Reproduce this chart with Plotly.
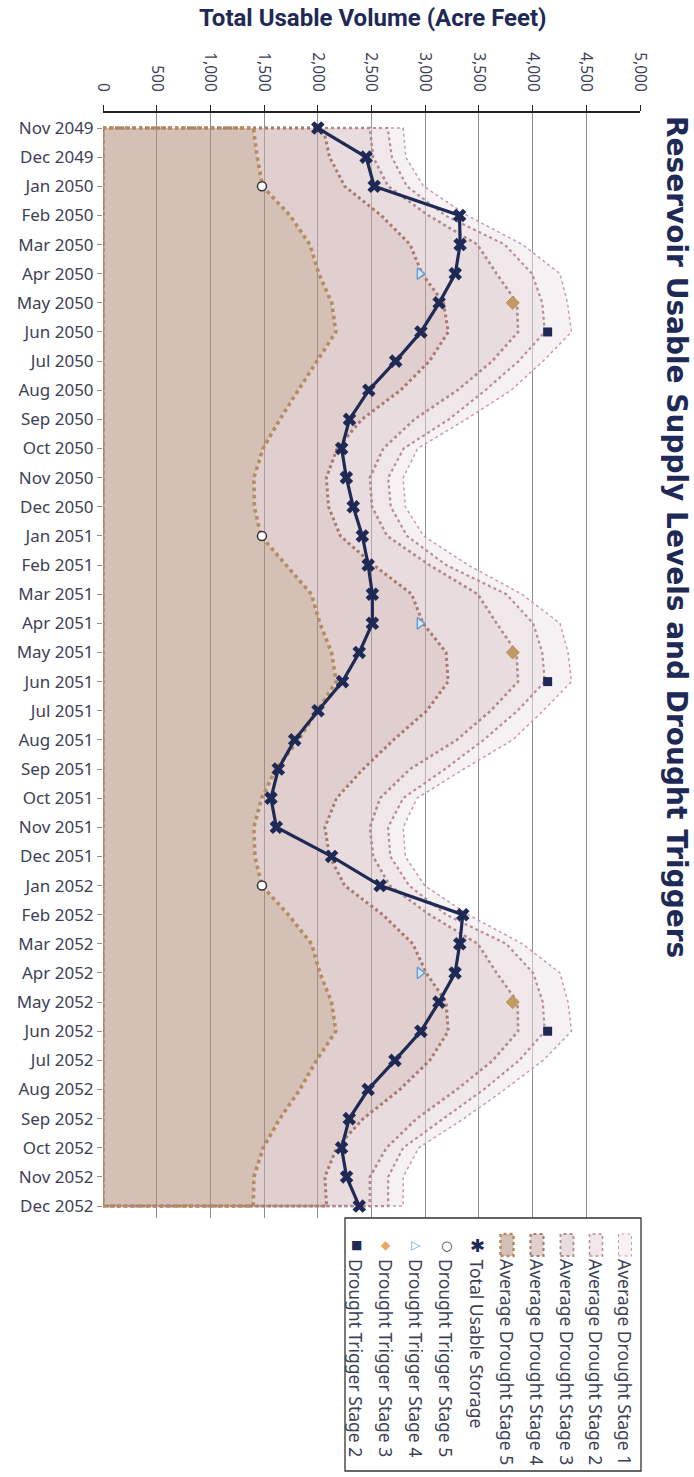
import plotly.graph_objects as go

# ---------------- data ----------------
months = ["Nov 2049", "Dec 2049",
          "Jan 2050", "Feb 2050", "Mar 2050", "Apr 2050", "May 2050", "Jun 2050",
          "Jul 2050", "Aug 2050", "Sep 2050", "Oct 2050", "Nov 2050", "Dec 2050",
          "Jan 2051", "Feb 2051", "Mar 2051", "Apr 2051", "May 2051", "Jun 2051",
          "Jul 2051", "Aug 2051", "Sep 2051", "Oct 2051", "Nov 2051", "Dec 2051",
          "Jan 2052", "Feb 2052", "Mar 2052", "Apr 2052", "May 2052", "Jun 2052",
          "Jul 2052", "Aug 2052", "Sep 2052", "Oct 2052", "Nov 2052", "Dec 2052"]

storage = [2000, 2450, 2525, 3320, 3325, 3280, 3130, 2960, 2725, 2475, 2295, 2222,
           2266, 2330, 2415, 2469, 2508, 2508, 2386, 2230, 2002, 1785, 1632, 1564,
           1614, 2128, 2580, 3350, 3322, 3278, 3128, 2960, 2718, 2469, 2293, 2221,
           2268, 2386]

stage1 = [2795, 2820, 2985, 3390, 3905, 4255, 4325, 4362, 4098, 3800, 3380, 2930,
          2795, 2815, 2985, 3400, 3900, 4255, 4330, 4362, 4098, 3815, 3360, 2925,
          2795, 2815, 2995, 3400, 3905, 4255, 4330, 4362, 4098, 3740, 3360, 2940,
          2795, 2795]
stage2 = [2650, 2690, 2830, 3185, 3740, 3995, 4090, 4113, 3870, 3560, 3220, 2800,
          2655, 2680, 2830, 3195, 3755, 4005, 4090, 4113, 3860, 3545, 3185, 2795,
          2655, 2675, 2850, 3195, 3755, 4005, 4095, 4113, 3875, 3545, 3170, 2795,
          2655, 2655]
stage3 = [2485, 2515, 2655, 3030, 3485, 3665, 3855, 3865, 3625, 3300, 2900, 2610,
          2485, 2505, 2645, 3040, 3490, 3665, 3850, 3865, 3610, 3295, 2860, 2580,
          2485, 2515, 2670, 3040, 3490, 3665, 3860, 3865, 3630, 3295, 2920, 2640,
          2485, 2485]
stage4 = [2050, 2110, 2250, 2590, 2860, 2970, 3170, 3215, 3040, 2770, 2410, 2180,
          2080, 2100, 2210, 2520, 2875, 2980, 3195, 3214, 3015, 2705, 2423, 2175,
          2066, 2110, 2250, 2605, 2885, 3010, 3195, 3214, 3043, 2764, 2423, 2175,
          2066, 2082]
stage5 = [1400, 1436, 1485, 1740, 1926, 2010, 2130, 2168, 1990, 1818, 1647, 1490,
          1405, 1410, 1470, 1710, 1940, 2020, 2128, 2172, 1995, 1820, 1610, 1477,
          1405, 1415, 1478, 1725, 1942, 2020, 2128, 2168, 1988, 1833, 1647, 1492,
          1405, 1399]

trigger5 = [None, None, 1480, None, None, None, None, None, None, None, None, None,
            None, None, 1480, None, None, None, None, None, None, None, None, None,
            None, None, 1480, None, None, None, None, None, None, None, None, None,
            None, None]
trigger4 = [None, None, None, None, None, 2950, None, None, None, None, None, None,
            None, None, None, None, None, 2950, None, None, None, None, None, None,
            None, None, None, None, None, 2950, None, None, None, None, None, None,
            None, None]
trigger3 = [None, None, None, None, None, None, 3815, None, None, None, None, None,
            None, None, None, None, None, None, 3815, None, None, None, None, None,
            None, None, None, None, None, None, 3815, None, None, None, None, None,
            None, None]
trigger2 = [None, None, None, None, None, None, None, 4140, None, None, None, None,
            None, None, None, None, None, None, None, 4140, None, None, None, None,
            None, None, None, None, None, None, None, 4140, None, None, None, None,
            None, None]

x_ticks = [0, 500, 1000, 1500, 2000, 2500, 3000, 3500, 4000, 4500, 5000]

stage_names = ["Average Drought Stage 1", "Average Drought Stage 2", "Average Drought Stage 3",
               "Average Drought Stage 4", "Average Drought Stage 5"]
legend_names = stage_names + ["Total Usable Storage", "Drought Trigger Stage 5",
                              "Drought Trigger Stage 4", "Drought Trigger Stage 3",
                              "Drought Trigger Stage 2"]

# ---------------- styling ----------------
W, H = 694, 1477
L, R, T, B = 103, 640, 113, 1218
NAVY = "#1e2a55"
TXT = "#3c3f55"

band_fill = ["rgba(239,230,234,0.55)", "rgba(228,211,216,0.55)", "rgba(214,191,194,0.55)",
             "rgba(198,168,166,0.55)", "rgba(176,141,121,0.55)"]
line_col = ["#c898bd", "#b98c9c", "#b08a8c", "#a97b70", "#b58c5f"]
line_w = [1.5, 2.2, 2.6, 3.0, 3.6]

stages = [stage1, stage2, stage3, stage4, stage5]

fig = go.Figure()

# band fills (stage 5 from zero, others to the next inner stage)
for k in [4, 3, 2, 1, 0]:
    fig.add_trace(go.Scatter(
        x=stages[k], y=months, mode="lines", line=dict(width=0),
        fill="tozerox" if k == 4 else "tonextx", fillcolor=band_fill[k],
        hoverinfo="skip", showlegend=False))

# area outlines (closed polygons like the spreadsheet area series)
for k in range(5):
    fig.add_trace(go.Scatter(
        x=[0] + stages[k] + [0, 0], y=[months[0]] + months + [months[-1], months[0]],
        mode="lines", line=dict(color=line_col[k], width=line_w[k], dash="dot"),
        name=stage_names[k], showlegend=False, hoverinfo="skip"))

fig.add_trace(go.Scatter(
    x=storage, y=months, mode="lines+markers", name="Total Usable Storage",
    line=dict(color=NAVY, width=3.2),
    marker=dict(symbol="x", size=12, color=NAVY), showlegend=False))

fig.add_trace(go.Scatter(x=trigger5, y=months, mode="markers", showlegend=False,
                         marker=dict(symbol="circle", size=9, color="white",
                                     line=dict(color="#333333", width=1.5))))
fig.add_trace(go.Scatter(x=trigger4, y=months, mode="markers", showlegend=False,
                         marker=dict(symbol="triangle-right", size=10, color="#dbe7f5",
                                     line=dict(color="#6a9fd6", width=1.5))))
fig.add_trace(go.Scatter(x=trigger3, y=months, mode="markers", showlegend=False,
                         marker=dict(symbol="diamond", size=10, color="#c49a64",
                                     line=dict(color="#b88d58", width=1))))
fig.add_trace(go.Scatter(x=trigger2, y=months, mode="markers", showlegend=False,
                         marker=dict(symbol="square", size=9, color=NAVY)))


def pxx(xp):
    return (xp - L) / (R - L)


def pxy(yp):
    return (B - yp) / (B - T)


annotations = [
    dict(text="<b>Total Usable Volume (Acre Feet)</b>", x=pxx(373), y=pxy(18),
         xref="paper", yref="paper", showarrow=False, xanchor="center", yanchor="middle",
         font=dict(family="Roboto", size=24, color=NAVY)),
    dict(text="<b>Reservoir Usable Supply Levels and Drought Triggers</b>",
         x=pxx(677), y=pxy(114), xref="paper", yref="paper", showarrow=False,
         textangle=90, xanchor="center", yanchor="top",
         font=dict(family="DejaVu Sans", size=28, color=NAVY)),
]

shapes = [
    dict(type="rect", xref="paper", yref="paper", x0=pxx(345), x1=pxx(641),
         y0=pxy(1218), y1=pxy(1471), line=dict(color="#333333", width=1.3),
         fillcolor="rgba(0,0,0,0)"),
]

# legend (rotated, drawn as annotations/shapes)
col_x = [625, 596, 567, 537, 507, 477, 446, 416, 386, 356]
for i, name in enumerate(legend_names):
    cx = col_x[i]
    annotations.append(dict(text=name, x=pxx(cx), y=pxy(1257), xref="paper", yref="paper",
                            showarrow=False, textangle=90, xanchor="center", yanchor="top",
                            font=dict(family="Noto Sans", size=17.5, color=TXT)))
for k in range(5):
    cx = col_x[k]
    shapes.append(dict(type="rect", xref="paper", yref="paper",
                       x0=pxx(cx - 6.5), x1=pxx(cx + 6.5), y0=pxy(1256), y1=pxy(1234),
                       fillcolor=band_fill[k],
                       line=dict(color=line_col[k], width=line_w[k] * 0.7, dash="dot")))
glyphs = [("✱", NAVY, 18), ("○", "#333333", 13), ("▷", "#6a9fd6", 12),
          ("◆", "#f0a45c", 12), ("■", NAVY, 12)]
for j, (g, c, s) in enumerate(glyphs):
    annotations.append(dict(text=g, x=pxx(col_x[5 + j]), y=pxy(1245), xref="paper",
                            yref="paper", showarrow=False, xanchor="center", yanchor="middle",
                            font=dict(family="DejaVu Sans", size=s, color=c)))

fig.update_layout(
    width=W, height=H,
    margin=dict(l=L, r=W - R, t=T, b=H - B, pad=0),
    paper_bgcolor="white", plot_bgcolor="white",
    showlegend=False,
    annotations=annotations, shapes=shapes,
    xaxis=dict(side="top", range=[0, 5000], tickmode="array", tickvals=x_ticks,
               tickformat=",", tickangle=90, showgrid=True, gridcolor="#8f8f8f",
               gridwidth=1, zeroline=False, showline=True, linecolor="#222222",
               linewidth=1.5, ticks="outside", ticklen=6, tickcolor="#222222",
               ticklabelstandoff=8,
               tickfont=dict(family="Noto Sans", size=15.5, color=TXT)),
    yaxis=dict(type="category", categoryorder="array", categoryarray=months,
               range=[37.41, -0.515], dtick=1, showgrid=False, zeroline=False,
               showline=False, ticks="outside", ticklen=5, tickcolor="#8f8f8f",
               tickfont=dict(family="Noto Sans", size=17, color=TXT)),
)

fig.write_html("out.html", config={"displayModeBar": False},
               post_script="document.body.style.margin='0';document.body.style.overflow='hidden';")
